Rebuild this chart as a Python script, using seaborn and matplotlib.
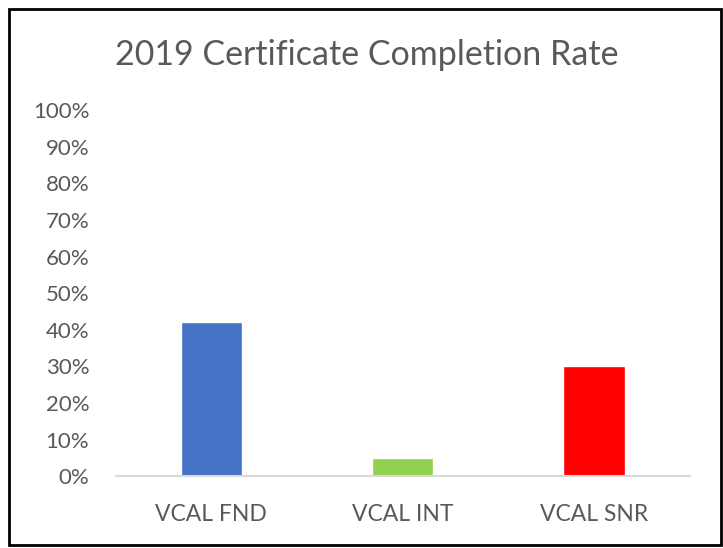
import numpy as np
import pandas as pd
import seaborn as sns
import matplotlib.pyplot as plt
from matplotlib.patches import Rectangle
from matplotlib.ticker import PercentFormatter

# Dados do gráfico
categorias = ['VCAL FND', 'VCAL INT', 'VCAL SNR']
taxas = [0.42, 0.05, 0.30]
cores = ['#4472C4', '#92D050', '#FF0000']

df = pd.DataFrame({'Categoria': categorias, 'Taxa': taxas})

sns.set_style('white')
plt.rcParams['font.family'] = ['Lato', 'DejaVu Sans']
cinza = '#595959'

fig = plt.figure(figsize=(7.23, 5.48), dpi=100)
ax = fig.add_axes([0.160, 0.131, 0.794, 0.668])

sns.barplot(data=df, x='Categoria', y='Taxa', hue='Categoria', palette=cores,
            width=0.32, legend=False, saturation=1, ax=ax)

ax.set_ylim(0, 1)
ax.set_yticks(np.arange(0, 1.01, 0.1))
ax.yaxis.set_major_formatter(PercentFormatter(1.0, decimals=0))
ax.set_xlabel('')
ax.set_ylabel('')
ax.tick_params(axis='both', length=0, colors=cinza)
ax.tick_params(axis='x', pad=20, labelsize=16.5)
ax.tick_params(axis='y', pad=19, labelsize=16)

for lado in ['top', 'right', 'left']:
    ax.spines[lado].set_visible(False)
ax.spines['bottom'].set_color('#D9D9D9')
ax.spines['bottom'].set_linewidth(1.5)

fig.text(0.507, 0.90, '2019 Certificate Completion Rate', ha='center', va='center',
         fontsize=24.5, color=cinza)

# Moldura preta em volta da figura
fig.patches.append(Rectangle((9 / 723, 3 / 548), 712 / 723, 536 / 548,
                             transform=fig.transFigure, fill=False,
                             edgecolor='black', linewidth=2))

fig.savefig('out.png', dpi=100)
